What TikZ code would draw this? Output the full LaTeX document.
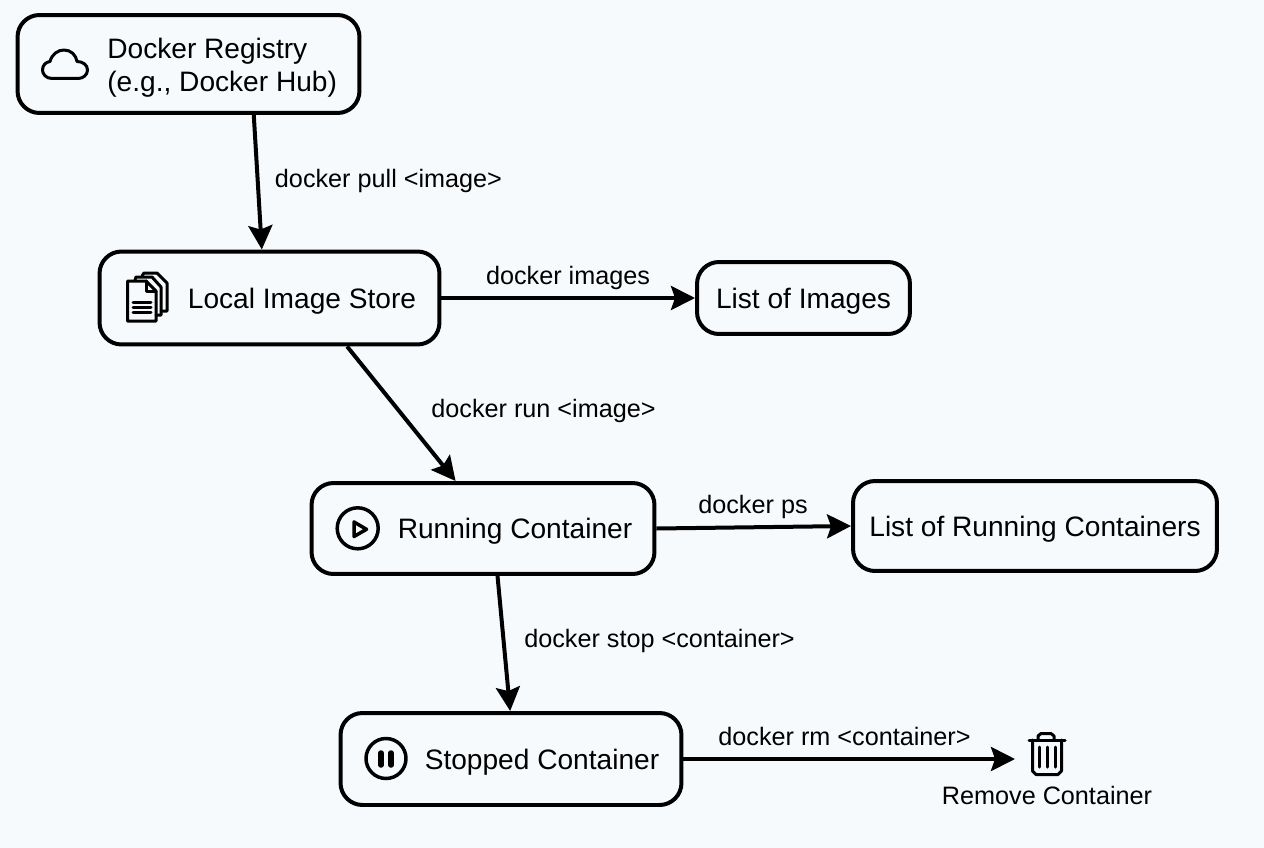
\documentclass[tikz,border=0pt]{standalone}
\usepackage{fontspec}
\setmainfont{Liberation Sans}
\usetikzlibrary{arrows.meta}
\definecolor{pagebg}{HTML}{F7FAFC}
\begin{document}
\begin{tikzpicture}[x=0.02cm,y=-0.02cm]
	\tikzstyle{boxnode}=[draw=black,fill=pagebg,line width=0.08cm,rounded corners=0.44cm,inner sep=0pt]
	\tikzstyle{boxtext}=[inner sep=0pt,anchor=base,font=\fontsize{16}{18.8}\selectfont]
	\tikzstyle{cmdlabel}=[inner sep=0pt,anchor=base,font=\fontsize{14.35}{17}\selectfont]
	\tikzstyle{flowarrow}=[line width=0.08cm,-{Stealth[length=0.48cm,width=0.48cm,inset=0.08cm]}]
	\tikzstyle{iconline}=[line width=0.06cm,line join=round,line cap=round]
	\useasboundingbox (0,0) rectangle (1264,848);
	\fill [pagebg] (0,0) rectangle (1264,848);
	\node [boxnode,minimum width=6.84cm,minimum height=1.96cm] (registry) at (188.5,64) {};
	\node [boxnode,minimum width=6.80cm,minimum height=1.86cm] (store) at (269.5,298) {};
	\node [boxnode,minimum width=4.26cm,minimum height=1.44cm] (imagelist) at (803.5,298) {};
	\node [boxnode,minimum width=6.86cm,minimum height=1.82cm] (running) at (483,528.5) {};
	\node [boxnode,minimum width=7.28cm,minimum height=1.80cm] (runlist) at (1035,526) {};
	\node [boxnode,minimum width=6.82cm,minimum height=1.84cm] (stopped) at (511,759) {};
	\node [boxtext,align=left,anchor=west] (registrytext) at (107,67.5) {Docker Registry\\(e.g., Docker Hub)};
	\node [boxtext] (storetext) at (302,308) {Local Image Store};
	\node [boxtext] (imagelisttext) at (803.5,308) {List of Images};
	\node [boxtext] (runningtext) at (515,538) {Running Container};
	\node [boxtext] (runlisttext) at (1035,536) {List of Running Containers};
	\node [boxtext] (stoppedtext) at (542,769) {Stopped Container};
	\node [cmdlabel] (pulllabel) at (388.5,187) {docker pull <image>};
	\node [cmdlabel] (imageslabel) at (568,284) {docker images};
	\node [cmdlabel] (runlabel) at (543.5,417) {docker run <image>};
	\node [cmdlabel] (pslabel) at (753,513) {docker ps};
	\node [cmdlabel] (stoplabel) at (659.5,647) {docker stop <container>};
	\node [cmdlabel] (rmlabel) at (844.5,745) {docker rm <container>};
	\node [cmdlabel] (removelabel) at (1047,804) {Remove Container};
	\coordinate (trashleft) at (1015,759);
	\draw [flowarrow] (registry.-38.7) -- (store.99.6);
	\draw [flowarrow] (store.east) -- (imagelist.west);
	\draw [flowarrow] (store.-32) -- (running.120);
	\draw [flowarrow] (running.east) -- (runlist.west);
	\draw [flowarrow] (running.-73.6) -- (stopped.91.2);
	\draw [flowarrow] (stopped.east) -- (trashleft);
	\draw [iconline] (52,78.5) .. controls (46,78.5) and (42.5,74) .. (42.5,70) .. controls (42.5,65) and (46,62) .. (50,61.5) .. controls (52,54) and (58,50) .. (64,50) .. controls (71,50) and (76,55) .. (77,61.5) .. controls (83,61.5) and (87.5,65) .. (87.5,70) .. controls (87.5,75) and (83,78.5) .. (78,78.5) -- cycle;
	\draw [iconline] (146,281) -- (127.5,281) -- (127.5,321) -- (156,321) -- (156,291) -- cycle;
	\draw [iconline] (146,281) -- (146,291) -- (156,291);
	\draw [iconline] (135,280) -- (136,277) -- (152,277) -- (161,287) -- (161,315) -- (156,315);
	\draw [iconline] (142,276) -- (144,273) -- (157,273) -- (167,283) -- (167,311) -- (161,311);
	\draw [iconline] (133,302) -- (151,302);
	\draw [iconline] (133,307) -- (151,307);
	\draw [iconline] (133,312) -- (151,312);
	\draw [iconline,line width=0.07cm] (357.7,528.3) circle (20.5);
	\draw [iconline,line width=0.07cm] (354,522) -- (366.5,529.3) -- (354,536.5) -- cycle;
	\draw [iconline,line width=0.07cm] (386,758.5) circle (20);
	\draw [iconline,line width=0.11cm] (381,753) -- (381,765);
	\draw [iconline,line width=0.11cm] (391,753) -- (391,765);
	\draw [iconline] (1029,740) -- (1065,740);
	\draw [iconline] (1038,740) -- (1038,736) -- (1041,733.5) -- (1051,733.5) -- (1054,736) -- (1054,740);
	\draw [iconline] (1032.5,740) -- (1032.5,771) -- (1036,774.5) -- (1058,774.5) -- (1061.5,771) -- (1061.5,740);
	\draw [iconline] (1039,747) -- (1039,767);
	\draw [iconline] (1047,747) -- (1047,767);
	\draw [iconline] (1055,747) -- (1055,767);
\end{tikzpicture}
\end{document}
